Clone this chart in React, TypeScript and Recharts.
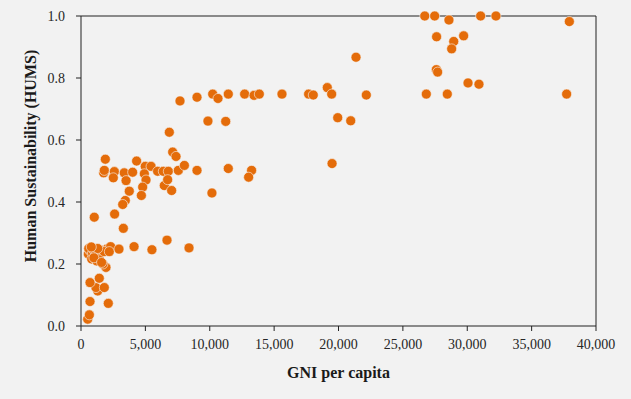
import React from "react";
import {
  ScatterChart, Scatter, XAxis, YAxis, ReferenceLine,
} from "recharts";

// GNI per capita vs human sustainability score
const GNI = [
  520, 650, 700, 2120, 1300, 1160, 1810, 700, 1420, 1940, 1700,
  570, 700, 830, 1220, 1610, 2000, 2300, 600, 900, 1000, 1100, 1400, 1500, 1800, 1300, 800, 2200, 1000, 1600,
  2950, 4120, 5510, 6680, 8390,
  1030, 2610, 3290, 3440, 3240, 3750,
  1890, 1760, 1810, 2590, 2510, 3360, 3500, 4010, 4320, 4990, 5440, 4920, 5050, 4790, 4690,
  5950, 6390, 6780, 6470, 7040, 7120, 7380, 7560, 6730, 6860, 8030, 9010, 11440, 13250, 13020, 10170, 19500,
  7690, 9010, 10230, 10640, 11440, 12710, 13440, 13850, 15610, 17680, 18040, 19130, 19470, 22160,
  26820, 28450, 37720, 9860, 11240, 19940, 20950, 30060, 30910, 27600, 27700, 21360,
  27620, 28950, 28790, 29720,
  26700, 27470, 28580, 31040, 32230, 37930,
];
const HUMS = [
  0.022, 0.036, 0.079, 0.073, 0.113, 0.124, 0.124, 0.14, 0.154, 0.189, 0.2,
  0.232, 0.243, 0.216, 0.21, 0.243, 0.248, 0.256, 0.25, 0.235, 0.245, 0.228, 0.22, 0.245, 0.24, 0.25, 0.255, 0.24, 0.22, 0.205,
  0.248, 0.256, 0.246, 0.277, 0.252,
  0.351, 0.361, 0.315, 0.405, 0.392, 0.435,
  0.538, 0.494, 0.502, 0.498, 0.478, 0.494, 0.469, 0.496, 0.532, 0.515, 0.515, 0.491, 0.471, 0.448, 0.421,
  0.499, 0.499, 0.499, 0.453, 0.437, 0.561, 0.547, 0.502, 0.472, 0.625, 0.518, 0.502, 0.508, 0.502, 0.48, 0.429, 0.524,
  0.726, 0.738, 0.748, 0.734, 0.748, 0.748, 0.744, 0.748, 0.748, 0.748, 0.745, 0.769, 0.748, 0.745,
  0.748, 0.748, 0.748, 0.661, 0.66, 0.672, 0.662, 0.784, 0.78, 0.827, 0.819, 0.867,
  0.933, 0.918, 0.894, 0.936,
  1.0, 1.0, 0.987, 1.0, 1.0, 0.982,
];
const X_TICKS = [0, 5000, 10000, 15000, 20000, 25000, 30000, 35000, 40000];
const Y_TICKS = [0, 0.2, 0.4, 0.6, 0.8, 1.0];

const data = GNI.map((g, i) => ({ gni: g, hums: HUMS[i] }));

const FONT = '"Liberation Serif", "Times New Roman", serif';
const ORANGE = "#E46C0A";

function YTitle() {
  return (
    <text
      x={30}
      y={156}
      transform="rotate(-90, 30, 156)"
      textAnchor="middle"
      dominantBaseline="central"
      fontFamily={FONT}
      fontWeight={700}
      fontSize={16}
      fill="#1a1a1a"
    >
      Human Sustainability (HUMS)
    </text>
  );
}

function XTitle() {
  return (
    <text
      x={338.5}
      y={372}
      textAnchor="middle"
      dominantBaseline="central"
      fontFamily={FONT}
      fontWeight={700}
      fontSize={16}
      fill="#1a1a1a"
    >
      GNI per capita
    </text>
  );
}

export default function App() {
  return (
    <div
      style={{
        position: "absolute", left: 0, top: 0, width: 631, height: 399,
        background: "#f2f2f2", fontFamily: FONT,
      }}
    >
      <ScatterChart
        width={631}
        height={399}
        margin={{ top: 16, right: 35, bottom: 0, left: 0 }}
        style={{ fontFamily: FONT }}
      >
        <XAxis
          type="number"
          dataKey="gni"
          domain={[0, 40000]}
          ticks={X_TICKS}
          interval={0}
          height={73}
          tickSize={5}
          tickMargin={8}
          stroke="#222"
          tick={{ fontFamily: FONT, fontSize: 14, fill: "#262626" }}
          tickFormatter={(v) => v.toLocaleString("en-US")}
          label={<XTitle />}
        />
        <YAxis
          type="number"
          dataKey="hums"
          domain={[0, 1]}
          ticks={Y_TICKS}
          interval={0}
          width={81}
          tickSize={5}
          tickMargin={11}
          stroke="#222"
          tick={{ fontFamily: FONT, fontSize: 14, fill: "#262626" }}
          tickFormatter={(v) => v.toFixed(1)}
          label={<YTitle />}
        />
        <ReferenceLine y={1} stroke="#222" />
        <ReferenceLine x={40000} stroke="#222" />
        <Scatter
          data={data}
          fill={ORANGE}
          shape={(p: any) => (
            <circle cx={p.cx} cy={p.cy} r={5} fill={ORANGE} stroke="#f7f7f7" strokeWidth={0.6} />
          )}
          isAnimationActive={false}
        />
      </ScatterChart>
    </div>
  );
}
